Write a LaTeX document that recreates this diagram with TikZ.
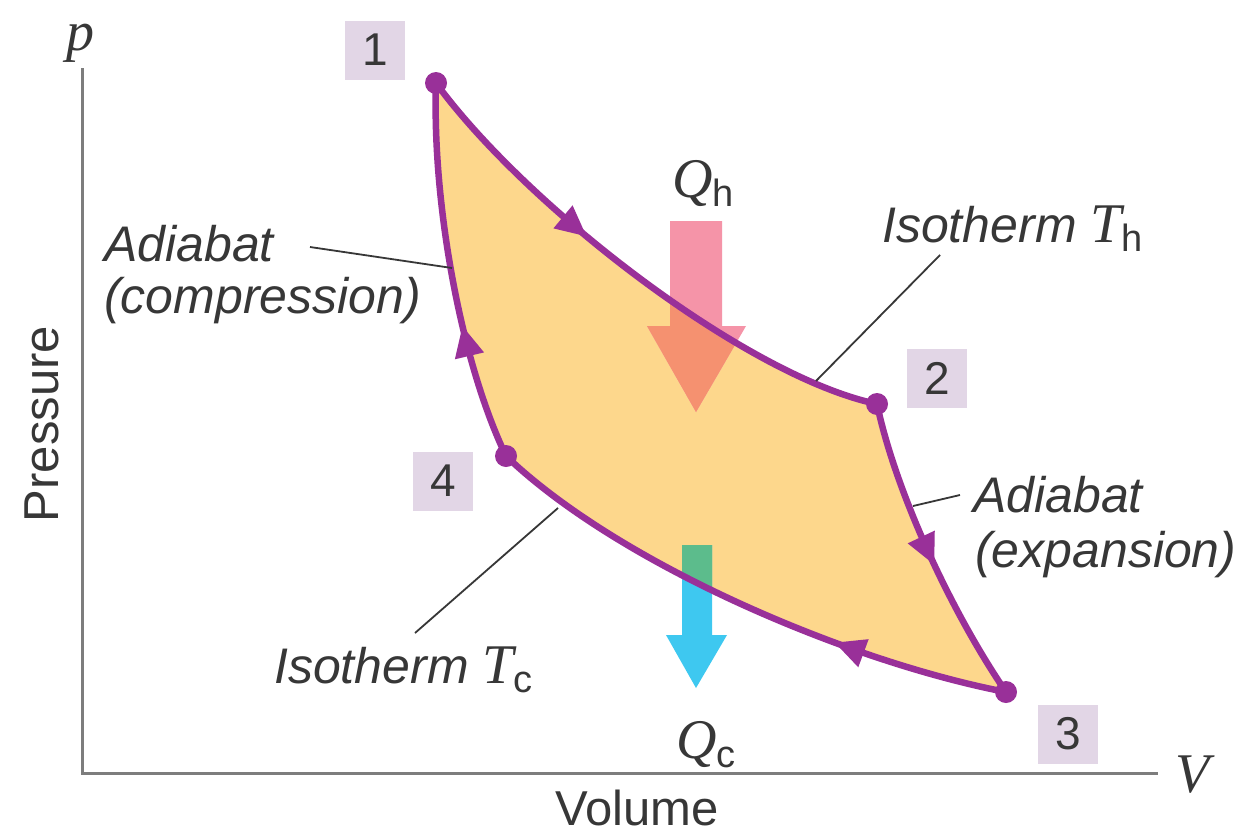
\documentclass[tikz,border=0pt]{standalone}
\usepackage{fontspec}
\setsansfont{Liberation Sans}
\newfontfamily\serf{Liberation Serif}
\usetikzlibrary{decorations.markings,arrows.meta}
\definecolor{cyc}{RGB}{153,48,153}
\definecolor{fillc}{RGB}{253,215,140}
\definecolor{boxc}{RGB}{226,214,230}
\definecolor{txt}{RGB}{55,55,55}
\definecolor{axisc}{RGB}{125,125,125}
\definecolor{pinkc}{RGB}{245,148,168}
\definecolor{orangec}{RGB}{245,145,112}
\definecolor{cyanc}{RGB}{62,200,240}
\definecolor{greenc}{RGB}{92,188,140}
\newcommand{\vsym}[1]{{\serf\itshape\fontsize{56}{60}\selectfont #1}}
\newcommand{\subsf}[1]{\raisebox{-9pt}{\sffamily\upshape\fontsize{38}{40}\selectfont #1}}
\tikzset{
  cycline/.style={draw=cyc, line width=6.5pt},
  midarrow/.style={postaction={decorate}, decoration={markings,
      mark=at position #1 with {\arrow[cyc]{Triangle[length=31pt,width=28pt]}}}},
  numbox/.style={fill=boxc, minimum width=60pt, minimum height=59pt, inner sep=0pt,
      font=\sffamily\fontsize{46}{46}\selectfont, text=txt},
  lab/.style={font=\sffamily\itshape\fontsize{50}{56}\selectfont, text=txt, inner sep=0pt},
  axlab/.style={font=\sffamily\fontsize{49}{54}\selectfont, text=txt, inner sep=0pt},
  symlab/.style={text=txt, inner sep=0pt},
  leader/.style={draw=txt, line width=1.8pt},
  dot/.style={fill=cyc}
}
\begin{document}
\begin{tikzpicture}[x=1pt,y=-1pt]
\useasboundingbox (0,0) rectangle (1238,835);
\fill[white] (0,0) rectangle (1238,835);

% axes
\coordinate (otop) at (82,68);
\coordinate (orig) at (82,773);
\coordinate (oright) at (1158,773);
\draw[axisc, line width=3pt] (otop) -- (orig) -- (oright);
\node[symlab, anchor=base] (plab) at (80,50) {\vsym{p}};
\node[symlab, anchor=base west] (vlab) at (1175,792) {\vsym{V}};
\node[axlab, anchor=base] (vol) at (637,825) {Volume};
\node[axlab, anchor=base, rotate=90] (pres) at (58,424) {Pressure};

% cycle corners
\coordinate (p1) at (436,83);
\coordinate (p2) at (877,404);
\coordinate (p3) at (1006,692);
\coordinate (p4) at (506,456);
\def\cyclepath{(p1) .. controls (525,205) and (745,376) .. (p2)
  .. controls (895,490) and (950,610) .. (p3)
  .. controls (850,662) and (620,565) .. (p4)
  .. controls (460,360) and (432,200) .. (p1) -- cycle}
\fill[fillc] \cyclepath;

% heat arrows
\def\qharrow{(670,221) -- (722,221) -- (722,326) -- (746,326) -- (696,412) -- (647,326) -- (670,326) -- cycle}
\def\qcarrow{(682,545) -- (712,545) -- (712,635) -- (727,635) -- (696,688) -- (666,635) -- (682,635) -- cycle}
\fill[pinkc] \qharrow;
\fill[cyanc] \qcarrow;
\begin{scope}
  \clip \cyclepath;
  \fill[orangec] \qharrow;
  \fill[greenc] \qcarrow;
\end{scope}
\node[symlab, anchor=base] (qh) at (703,197) {\vsym{Q}\subsf{h}};
\node[symlab, anchor=base] (qc) at (706,758) {\vsym{Q}\subsf{c}};

% cycle strokes
\draw[cycline, midarrow=0.39] (p1) .. controls (525,205) and (745,376) .. (p2);
\draw[cycline, midarrow=0.54] (p2) .. controls (895,490) and (950,610) .. (p3);
\draw[cycline, midarrow=0.32] (p3) .. controls (850,662) and (620,565) .. (p4);
\draw[cycline, midarrow=0.36] (p4) .. controls (460,360) and (432,200) .. (p1);
\foreach \p in {p1,p2,p3,p4} \fill[dot] (\p) circle (11pt);

% number boxes
\node[numbox] (b1) at (375,50) {1};
\node[numbox] (b2) at (937,378) {2};
\node[numbox] (b3) at (1068,734) {3};
\node[numbox] (b4) at (443,481) {4};

% labels
\node[lab, anchor=base west] (adc1) at (104,261) {Adiabat};
\node[lab, anchor=base west] (adc2) at (104,313) {(compression)};
\coordinate (adcend) at (452,268);
\draw[leader] (310,247) -- (adcend);

\node[lab, anchor=base west] (ith) at (882,242) {Isotherm \vsym{T}\subsf{h}};
\coordinate (ithend) at (816,381);
\draw[leader] (940,255) -- (ithend);

\node[lab, anchor=base west] (ade1) at (973,512) {Adiabat};
\node[lab, anchor=base west] (ade2) at (975,567) {(expansion)};
\coordinate (adeend) at (913,506);
\draw[leader] (960,495) -- (adeend);

\node[lab, anchor=base west] (itc) at (274,683) {Isotherm \vsym{T}\subsf{c}};
\coordinate (itcend) at (558,508);
\draw[leader] (415,633) -- (itcend);
\end{tikzpicture}
\end{document}
